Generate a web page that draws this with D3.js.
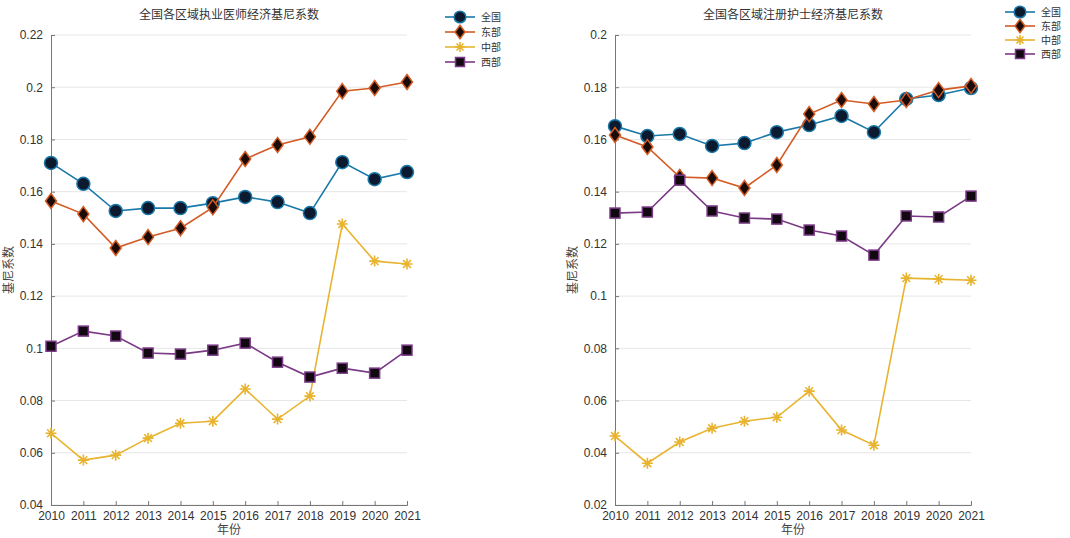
<!DOCTYPE html>
<html><head><meta charset="utf-8">
<script src="https://cdn.jsdelivr.net/npm/d3@7"></script>
<style>body{margin:0;background:#fff;}svg{display:block;}</style>
</head><body>
<svg id="c" width="1070" height="538"></svg>
<script>
const years = [2010,2011,2012,2013,2014,2015,2016,2017,2018,2019,2020,2021];
const seriesNames = ["全国","东部","中部","西部"];
// Left chart: 执业医师
const docNational = [0.171,0.163,0.1526,0.1537,0.1537,0.1556,0.158,0.156,0.1518,0.1713,0.1648,0.1675];
const docEast     = [0.1564,0.1514,0.1384,0.1426,0.146,0.154,0.1725,0.1779,0.181,0.1985,0.1997,0.202];
const docCentral  = [0.0675,0.0572,0.0591,0.0656,0.0713,0.0721,0.0844,0.0729,0.0817,0.1476,0.1334,0.1323];
const docWest     = [0.1008,0.1066,0.1047,0.0982,0.0978,0.0993,0.102,0.0947,0.089,0.0924,0.0905,0.0993];
// Right chart: 注册护士
const nurNational = [0.1651,0.1613,0.1621,0.1575,0.1586,0.1628,0.1655,0.169,0.1628,0.1755,0.177,0.1797];
const nurEast     = [0.1617,0.1571,0.1456,0.1452,0.1414,0.1502,0.1697,0.1751,0.1736,0.1751,0.1789,0.1805];
const nurCentral  = [0.0464,0.036,0.0441,0.0494,0.0521,0.0536,0.0636,0.0487,0.0429,0.1069,0.1065,0.1061];
const nurWest     = [0.1318,0.1322,0.1444,0.1326,0.1299,0.1295,0.1253,0.123,0.1157,0.1307,0.1303,0.1383];
const leftTicks  = [0.04,0.06,0.08,0.1,0.12,0.14,0.16,0.18,0.2,0.22];
const rightTicks = [0.02,0.04,0.06,0.08,0.1,0.12,0.14,0.16,0.18,0.2];

const colors = ["#1a78a8","#d35a22","#e8b430","#7a3a86"];
const fills  = ["#0b1a2e","#1a0b08","#e8b430","#120812"];
const symbols = ["circle","diamond","asterisk","square"];

const svg = d3.select("#c");
const fmt = d => String(+d.toFixed(2));

function marker(g, type, x, y, i, scale=1){
  if(type==="circle"){
    g.append("circle").attr("cx",x).attr("cy",y).attr("r",6.5*scale)
     .attr("fill",fills[i]).attr("stroke",colors[i]).attr("stroke-width",1.5);
  } else if(type==="diamond"){
    const s=7.5*scale, w=5.5*scale;
    g.append("path").attr("d",`M${x},${y-s}L${x+w},${y}L${x},${y+s}L${x-w},${y}Z`)
     .attr("fill",fills[i]).attr("stroke",colors[i]).attr("stroke-width",1.5);
  } else if(type==="square"){
    const s=5*scale;
    g.append("rect").attr("x",x-s).attr("y",y-s).attr("width",2*s).attr("height",2*s)
     .attr("fill",fills[i]).attr("stroke",colors[i]).attr("stroke-width",1.5);
  } else {
    const s=5.5*scale;
    let d="";
    for(let k=0;k<4;k++){const a=k*Math.PI/4;d+=`M${x-s*Math.cos(a)},${y-s*Math.sin(a)}L${x+s*Math.cos(a)},${y+s*Math.sin(a)}`;}
    g.append("path").attr("d",d).attr("stroke",colors[i]).attr("stroke-width",1.6).attr("fill","none");
  }
}

function drawChart(opt){
  const x = d3.scaleLinear().domain([2010,2021]).range([opt.x0,opt.x1]);
  const y = d3.scaleLinear().domain(opt.domain).range([505,35]);
  const g = svg.append("g");
  // grid
  g.append("g").selectAll("line").data(opt.ticks).join("line")
    .attr("x1",opt.x0).attr("x2",opt.x1).attr("y1",d=>y(d)).attr("y2",d=>y(d))
    .attr("stroke","#e6e6e6").attr("stroke-width",1);
  // axes
  const ya = g.append("g").attr("transform",`translate(${opt.x0},0)`)
    .call(d3.axisLeft(y).tickValues(opt.ticks).tickFormat(fmt).tickSizeInner(-4).tickSizeOuter(-4).tickPadding(8));
  const xa = g.append("g").attr("transform",`translate(0,505)`)
    .call(d3.axisBottom(x).tickValues(years).tickFormat(d3.format("d")).tickSizeInner(-4).tickSizeOuter(-4).tickPadding(6));
  [ya,xa].forEach(a=>{
    a.select(".domain").attr("stroke","#777");
    a.selectAll(".tick line").attr("stroke","#777");
    a.selectAll("text").attr("fill","#333").style("font-family","Liberation Sans, Arial, sans-serif").style("font-size","12px");
  });
  // lines
  opt.data.forEach((vals,i)=>{
    const pts = years.map((yr,k)=>[x(yr),y(vals[k])]);
    g.append("path").attr("d",d3.line()(pts)).attr("fill","none")
      .attr("stroke",colors[i]).attr("stroke-width",1.6);
    const mg = g.append("g");
    pts.forEach(p=>marker(mg,symbols[i],p[0],p[1],i));
  });
  // title and labels
  g.append("text").attr("x",(opt.x0+opt.x1)/2).attr("y",19).attr("text-anchor","middle")
    .style("font-family","Noto Sans CJK SC, sans-serif").style("font-size","12px").attr("fill","#333").text(opt.title);
  g.append("text").attr("x",(opt.x0+opt.x1)/2).attr("y",534).attr("text-anchor","middle")
    .style("font-family","Noto Sans CJK SC, sans-serif").style("font-size","12px").attr("fill","#444").text("年份");
  g.append("text").attr("transform",`translate(${opt.x0-38},270) rotate(-90)`).attr("text-anchor","middle")
    .style("font-family","Noto Sans CJK SC, sans-serif").style("font-size","12px").attr("fill","#444").text("基尼系数");
  // legend
  const lg = g.append("g");
  opt.legendY.forEach((ly,i)=>{
    lg.append("line").attr("x1",opt.legendX).attr("x2",opt.legendX+30).attr("y1",ly).attr("y2",ly)
      .attr("stroke",colors[i]).attr("stroke-width",1.6);
    marker(lg,symbols[i],opt.legendX+15,ly,i,0.9);
    lg.append("text").attr("x",opt.legendX+36).attr("y",ly+4)
      .style("font-family","Noto Sans CJK SC, sans-serif").style("font-size","10px").attr("fill","#333").text(seriesNames[i]);
  });
}

drawChart({x0:51,x1:407,domain:[0.04,0.22],ticks:leftTicks,title:"全国各区域执业医师经济基尼系数",
  data:[docNational,docEast,docCentral,docWest],legendX:445,legendY:[17,32,47,62]});
drawChart({x0:615,x1:971,domain:[0.02,0.2],ticks:rightTicks,title:"全国各区域注册护士经济基尼系数",
  data:[nurNational,nurEast,nurCentral,nurWest],legendX:1005,legendY:[12,26,40,54]});
</script>
</body></html>
